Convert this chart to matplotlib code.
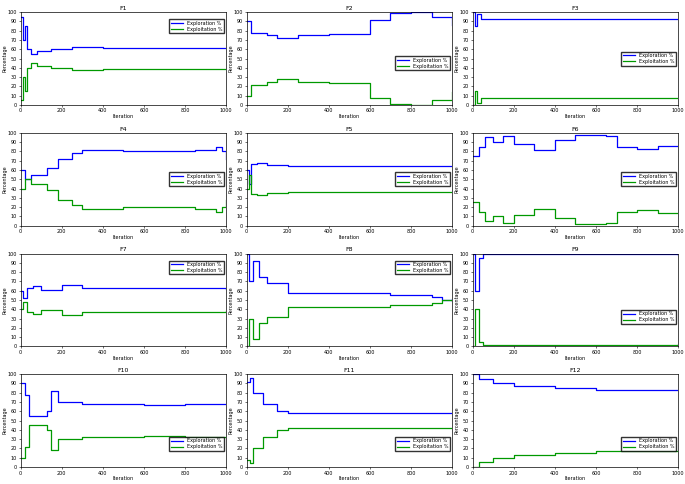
import matplotlib
matplotlib.use("Agg")
import matplotlib.pyplot as plt

# Exploration % (iteration, value); exploitation = 100 - exploration
TITLES = ["F1", "F2", "F3", "F4", "F5", "F6", "F7", "F8", "F9", "F10", "F11", "F12"]
X = [
    [0, 10, 20, 30, 50, 80, 150, 250, 400, 600, 1000],
    [0, 20, 100, 150, 250, 400, 580, 600, 700, 800, 900, 1000],
    [0, 10, 20, 40, 100, 1000],
    [0, 20, 50, 100, 130, 180, 250, 300, 500, 700, 850, 950, 980, 1000],
    [0, 10, 20, 50, 100, 200, 1000],
    [0, 30, 60, 100, 150, 200, 300, 400, 500, 650, 700, 800, 900, 1000],
    [0, 10, 30, 60, 100, 200, 300, 600, 1000],
    [0, 10, 30, 60, 100, 150, 200, 400, 700, 900, 950, 1000],
    [0, 10, 30, 50, 1000],
    [0, 20, 40, 100, 130, 150, 180, 300, 600, 800, 1000],
    [0, 15, 30, 80, 150, 200, 1000],
    [0, 30, 100, 200, 400, 600, 1000],
]
EXPLORATION = [
    [95, 70, 85, 60, 55, 58, 60, 62, 61, 61, 61],
    [90, 78, 75, 72, 75, 76, 76, 92, 99, 100, 95, 86],
    [100, 85, 98, 93, 93, 93],
    [60, 50, 55, 55, 62, 72, 78, 82, 80, 80, 82, 85, 80, 72],
    [60, 45, 66, 67, 65, 64, 64],
    [75, 85, 95, 90, 97, 88, 82, 92, 98, 97, 85, 83, 86, 86],
    [60, 52, 63, 65, 61, 66, 63, 63, 62],
    [100, 70, 92, 75, 68, 68, 58, 58, 55, 53, 50, 51],
    [100, 60, 95, 99, 98],
    [90, 78, 55, 55, 60, 82, 70, 68, 67, 68, 68],
    [92, 96, 80, 68, 60, 58, 58],
    [100, 95, 90, 87, 85, 83, 83],
]
LEGEND_POS = [(1, 0.95), (1, 0.55), (1, 0.6), (1, 0.6),
              (1, 0.6), (1, 0.6), (1, 0.95), (1, 0.95),
              (1, 0.42), (1, 0.35), (1, 0.35), (1, 0.35)]

fig, axes = plt.subplots(4, 3, figsize=(6.85, 4.84), dpi=100)
for i, ax in enumerate(axes.flat):
    explo = EXPLORATION[i]
    exploit = [100 - v for v in explo]
    ax.plot(X[i], explo, color="#0000ff", lw=0.9, drawstyle="steps-post", label="Exploration %")
    ax.plot(X[i], exploit, color="#009900", lw=0.9, drawstyle="steps-post", label="Exploitation %")
    ax.set_xlim(0, 1000)
    ax.set_ylim(0, 100)
    ax.set_xticks(range(0, 1001, 200))
    ax.set_yticks(range(0, 101, 10))
    ax.tick_params(labelsize=3.5, length=1.5, width=0.4, pad=1)
    ax.set_title(TITLES[i], fontsize=4.5, pad=1.5)
    ax.set_xlabel("Iteration", fontsize=3.5, labelpad=0.5)
    ax.set_ylabel("Percentage", fontsize=3.5, labelpad=0.5)
    for s in ax.spines.values():
        s.set_linewidth(0.5)
    ax.legend(loc="upper right", bbox_to_anchor=LEGEND_POS[i], fontsize=3.5, frameon=True,
              fancybox=False, edgecolor="black", handlelength=2.5, borderpad=0.3,
              labelspacing=0.2)

plt.subplots_adjust(left=0.03, right=0.99, top=0.975, bottom=0.035, wspace=0.1, hspace=0.3)
fig.savefig("out.png", dpi=100)
